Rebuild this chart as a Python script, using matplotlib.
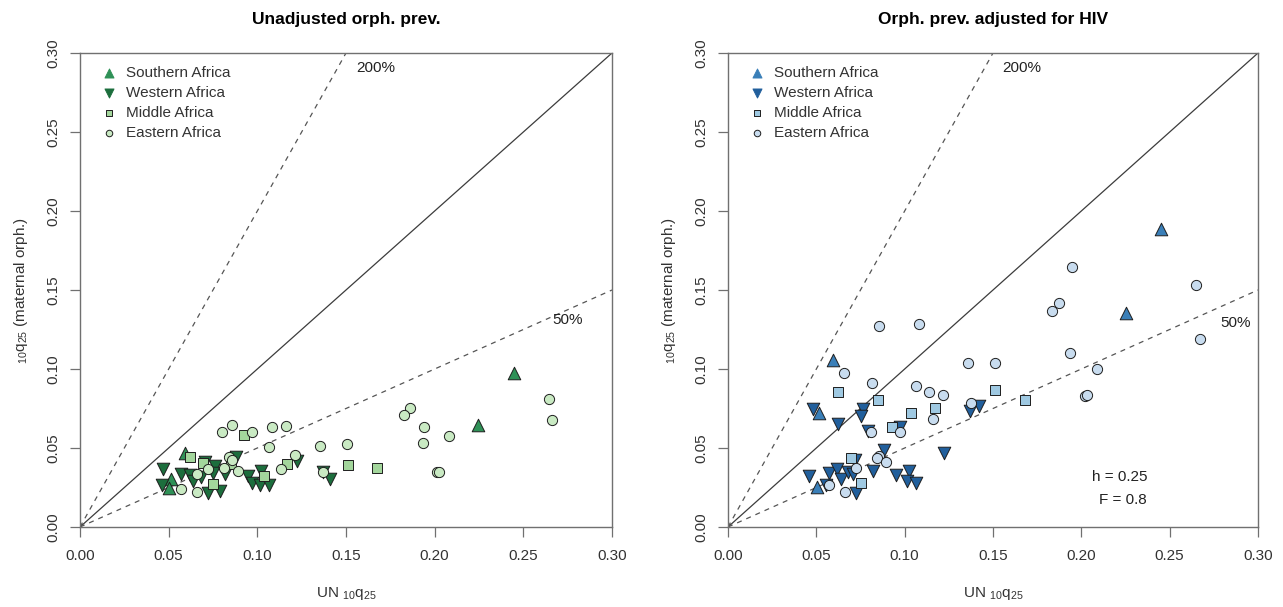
import numpy as np
import matplotlib
matplotlib.use("Agg")
import matplotlib.pyplot as plt

plt.rcParams['font.family'] = 'Liberation Sans'
plt.rcParams['mathtext.fontset'] = 'custom'
plt.rcParams['mathtext.rm'] = 'Liberation Sans'
plt.rcParams['mathtext.it'] = 'Liberation Sans'

# --- unadjusted orphanhood estimates (x = UN 10q25, y = maternal orph. 10q25) ---
unadj_south_x = [0.2445, 0.2246, 0.0594, 0.0514, 0.0504]
unadj_south_y = [0.0977, 0.0646, 0.0466, 0.0304, 0.0249]

unadj_west_x = [0.1223, 0.1411, 0.1368, 0.0470, 0.0568, 0.0621, 0.0636, 0.0705, 0.0762,
                0.0681, 0.0752, 0.0818, 0.0880, 0.0946, 0.1021, 0.0969, 0.1016, 0.1063,
                0.0461, 0.0724, 0.0790]
unadj_west_y = [0.0420, 0.0304, 0.0346, 0.0367, 0.0335, 0.0329, 0.0293, 0.0410, 0.0386,
                0.0318, 0.0340, 0.0335, 0.0441, 0.0325, 0.0356, 0.0277, 0.0266, 0.0266,
                0.0266, 0.0213, 0.0228]

unadj_mid_x = [0.1676, 0.1509, 0.1170, 0.0926, 0.0621, 0.0696, 0.0850, 0.1035, 0.0752]
unadj_mid_y = [0.0373, 0.0394, 0.0400, 0.0584, 0.0441, 0.0403, 0.0399, 0.0325, 0.0272]

unadj_east_x = [0.2643, 0.2664, 0.1862, 0.1828, 0.1939, 0.2082, 0.1932, 0.2013, 0.2026,
                0.1507, 0.1356, 0.1368, 0.1161, 0.1082, 0.1213, 0.1134, 0.0803, 0.0856,
                0.0972, 0.1063, 0.0658, 0.0724, 0.0841, 0.0856, 0.0813, 0.0890, 0.0570,
                0.0658]
unadj_east_y = [0.0808, 0.0677, 0.0751, 0.0707, 0.0635, 0.0576, 0.0534, 0.0350, 0.0346,
                0.0527, 0.0515, 0.0346, 0.0641, 0.0631, 0.0454, 0.0369, 0.0599, 0.0646,
                0.0603, 0.0504, 0.0335, 0.0367, 0.0441, 0.0424, 0.0371, 0.0354, 0.0240,
                0.0223]

# --- orphanhood estimates adjusted for HIV (h = 0.25, F = 0.8) ---
hiv_south_x = [0.2451, 0.2253, 0.0596, 0.0515, 0.0506]
hiv_south_y = [0.1886, 0.1352, 0.1057, 0.0719, 0.0251]

hiv_west_x = [0.0479, 0.0766, 0.0751, 0.0621, 0.0974, 0.0794, 0.0883, 0.0719, 0.0460,
              0.0572, 0.0619, 0.0640, 0.0681, 0.0709, 0.0823, 0.0949, 0.1026, 0.1015,
              0.1062, 0.0555, 0.0725, 0.1370, 0.1421, 0.1225]
hiv_west_y = [0.0745, 0.0745, 0.0703, 0.0652, 0.0631, 0.0608, 0.0487, 0.0424, 0.0323,
              0.0344, 0.0365, 0.0302, 0.0350, 0.0333, 0.0354, 0.0329, 0.0354, 0.0293,
              0.0277, 0.0266, 0.0217, 0.0736, 0.0766, 0.0470]

hiv_mid_x = [0.0621, 0.0851, 0.1036, 0.0930, 0.0696, 0.0753, 0.1513, 0.1679, 0.1174]
hiv_mid_y = [0.0854, 0.0804, 0.0724, 0.0631, 0.0435, 0.0280, 0.0867, 0.0804, 0.0751]

hiv_east_x = [0.1945, 0.2649, 0.1872, 0.1834, 0.1079, 0.0857, 0.2672, 0.1938, 0.1360,
              0.1511, 0.2089, 0.0658, 0.0813, 0.1064, 0.1140, 0.1217, 0.2021, 0.2032,
              0.1374, 0.1162, 0.0975, 0.0808, 0.0857, 0.0845, 0.0893, 0.0725, 0.0573,
              0.0662]
hiv_east_y = [0.1648, 0.1532, 0.1420, 0.1367, 0.1287, 0.1272, 0.1190, 0.1101, 0.1040,
              0.1036, 0.1002, 0.0977, 0.0909, 0.0891, 0.0853, 0.0833, 0.0829, 0.0837,
              0.0783, 0.0682, 0.0603, 0.0603, 0.0451, 0.0439, 0.0413, 0.0371, 0.0266,
              0.0223]

regions = ['Southern Africa', 'Western Africa', 'Middle Africa', 'Eastern Africa']
markers = ['^', 'v', 's', 'o']
sizes = [82, 82, 42, 54]
greens = ['#2f9157', '#1c6e3d', '#a3d69c', '#c9eac3']
blues = ['#3a7fb8', '#215f9c', '#9fc9e2', '#c8dcef']

ticks = np.arange(0, 0.301, 0.05)
ticklabels = ['%.2f' % t for t in ticks]
frame_col = '#707070'


def draw_panel(ax, data, colors, title, pct_pos, note=False):
    line_x = np.array([0, 0.3])
    ax.plot(line_x, line_x, color='#3c3c3c', lw=0.9, zorder=1)
    ax.plot(line_x, 2 * line_x, color='#555555', lw=0.9, ls=(0, (4, 4)), zorder=1)
    ax.plot(line_x, 0.5 * line_x, color='#555555', lw=0.9, ls=(0, (4, 4)), zorder=1)

    for (xs, ys), m, s, c in zip(data, markers, sizes, colors):
        ax.scatter(xs, ys, marker=m, s=s, facecolor=c, edgecolor='#1e1e1e',
                   linewidth=0.7, zorder=3)

    ax.set_xlim(0, 0.3)
    ax.set_ylim(0, 0.3)
    ax.set_xticks(ticks)
    ax.set_xticklabels(ticklabels)
    ax.set_yticks(ticks)
    ax.set_yticklabels(ticklabels, rotation=90, va='center')
    ax.tick_params(length=7, width=0.9, color=frame_col, pad=9,
                   labelsize=11, labelcolor='#333333')
    ax.tick_params(axis='y', pad=7)
    for sp in ax.spines.values():
        sp.set_color(frame_col)
        sp.set_linewidth(1.0)

    ax.set_title(title, fontsize=12.5, fontweight='bold', pad=21)
    ax.set_xlabel(r'UN $_{10}$q$_{25}$', fontsize=11, color='#333333', labelpad=16)
    ax.set_ylabel(r'$_{10}$q$_{25}$ (maternal orph.)', fontsize=11,
                  color='#333333', labelpad=12)

    ax.text(pct_pos[0][0], pct_pos[0][1], '200%', fontsize=11, color='#222222',
            ha='center', va='center')
    ax.text(pct_pos[1][0], pct_pos[1][1], '50%', fontsize=11, color='#222222',
            ha='center', va='center')

    # legend, drawn by hand so spacing stays close to base-graphics style
    for i, (lab, m, c) in enumerate(zip(regions, markers, colors)):
        yy = 0.958 - i * 0.0422
        ms = 42 if m in ('^', 'v') else 22
        ax.scatter([0.055], [yy], marker=m, s=ms, facecolor=c,
                   edgecolor='#1e1e1e' if m in ('s', 'o') else c,
                   linewidth=0.7, transform=ax.transAxes, zorder=4, clip_on=False)
        ax.text(0.087, yy, lab, fontsize=11, color='#333333', va='center',
                transform=ax.transAxes)

    if note:
        ax.text(0.2372, 0.0316, 'h = 0.25', fontsize=11, color='#222222',
                ha='right', va='center')
        ax.text(0.2372, 0.0171, 'F = 0.8', fontsize=11, color='#222222',
                ha='right', va='center')


fig = plt.figure(figsize=(12.83, 6.07), dpi=100)
ax1 = fig.add_axes([80 / 1283, 80 / 607, 532 / 1283, 474 / 607])
ax2 = fig.add_axes([728 / 1283, 80 / 607, 530 / 1283, 474 / 607])

draw_panel(ax1,
           [(unadj_south_x, unadj_south_y), (unadj_west_x, unadj_west_y),
            (unadj_mid_x, unadj_mid_y), (unadj_east_x, unadj_east_y)],
           greens, 'Unadjusted orph. prev.',
           [(0.1665, 0.2905), (0.2748, 0.131)])
draw_panel(ax2,
           [(hiv_south_x, hiv_south_y), (hiv_west_x, hiv_west_y),
            (hiv_mid_x, hiv_mid_y), (hiv_east_x, hiv_east_y)],
           blues, 'Orph. prev. adjusted for HIV',
           [(0.1664, 0.2905), (0.2875, 0.129)], note=True)

fig.savefig('out.png', dpi=100)
